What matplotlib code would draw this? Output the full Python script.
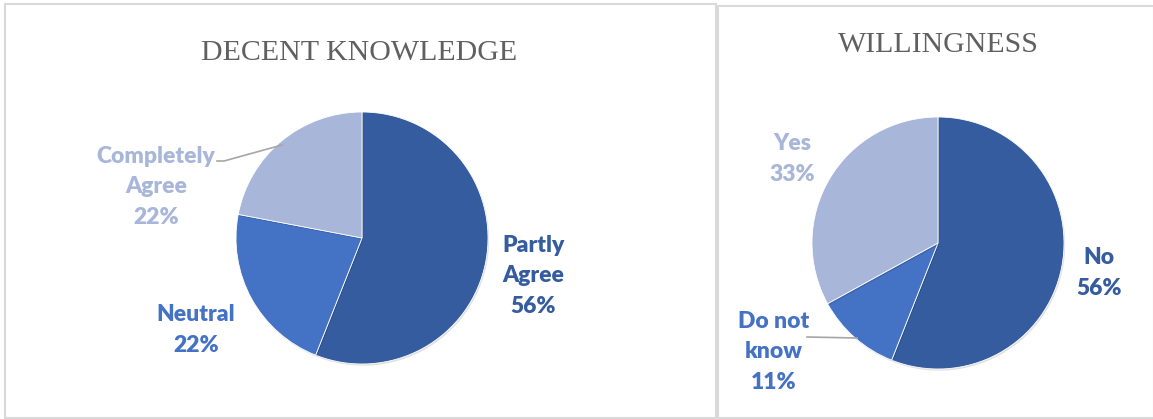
import numpy as np
import matplotlib.pyplot as plt
import matplotlib.patheffects as pe
from matplotlib.patches import Rectangle

# survey answers, two questions
knowledge_labels = ["Partly\nAgree", "Neutral", "Completely\nAgree"]
knowledge_share = [56, 22, 22]

willing_labels = ["No", "Do not\nknow", "Yes"]
willing_share = [56, 11, 33]

titles = ["DECENT KNOWLEDGE", "WILLINGNESS"]
colors = ["#345C9F", "#4472C4", "#A8B6DA"]

W, H = 1153, 419
fig = plt.figure(figsize=(W / 100, H / 100), dpi=100)
ax = fig.add_axes([0, 0, 1, 1])

def img_y(y):
    return H - y

label_font = dict(family=["Lato", "DejaVu Sans"], fontsize=16.5, fontweight="heavy",
                  ha="center", va="center", linespacing=1.55)
title_font = dict(family=["Liberation Serif", "DejaVu Serif"], fontsize=21.5,
                  color="#606060", ha="center", va="center")

shadow = [pe.SimplePatchShadow(offset=(0.8, -1.2), shadow_rgbFace="#000000", alpha=0.12),
          pe.Normal()]

def draw_pie(center, shares, labels, label_pos, title, title_pos):
    wedges, _ = ax.pie(shares, colors=colors, startangle=90, counterclock=False,
                       center=(center[0], img_y(center[1])), radius=126,
                       wedgeprops=dict(lw=0.6, ec="white"))
    for w in wedges:
        w.set_path_effects(shadow)
    for lab, val, col, pos in zip(labels, shares, colors, label_pos):
        ax.text(pos[0], img_y(pos[1]), f"{lab}\n{val}%", color=col, **label_font)
    ax.text(title_pos[0], img_y(title_pos[1]), title, **title_font)

draw_pie((362, 238), knowledge_share, knowledge_labels,
         [(533, 276), (196, 330), (156, 187)], titles[0], (359, 53))
draw_pie((938, 243), willing_share, willing_labels,
         [(1099, 273), (774, 352), (792, 159)], titles[1], (938, 45))

# leader lines
ax.plot([217, 224, 282], [img_y(161), img_y(161), img_y(145)], color="#a6a6a6", lw=1.2)
ax.plot([807, 857], [img_y(337), img_y(338)], color="#a6a6a6", lw=1.2)

# panel frames
ax.add_patch(Rectangle((5, img_y(418)), 711, 414, fill=False, ec="#d9d9d9", lw=1.5))
ax.add_patch(Rectangle((717.5, img_y(418)), 436, 412, fill=False, ec="#d9d9d9", lw=1.5))

ax.set_xlim(0, W)
ax.set_ylim(0, H)
ax.set_aspect("equal")
ax.axis("off")

fig.savefig("out.png", dpi=100, facecolor="white")
